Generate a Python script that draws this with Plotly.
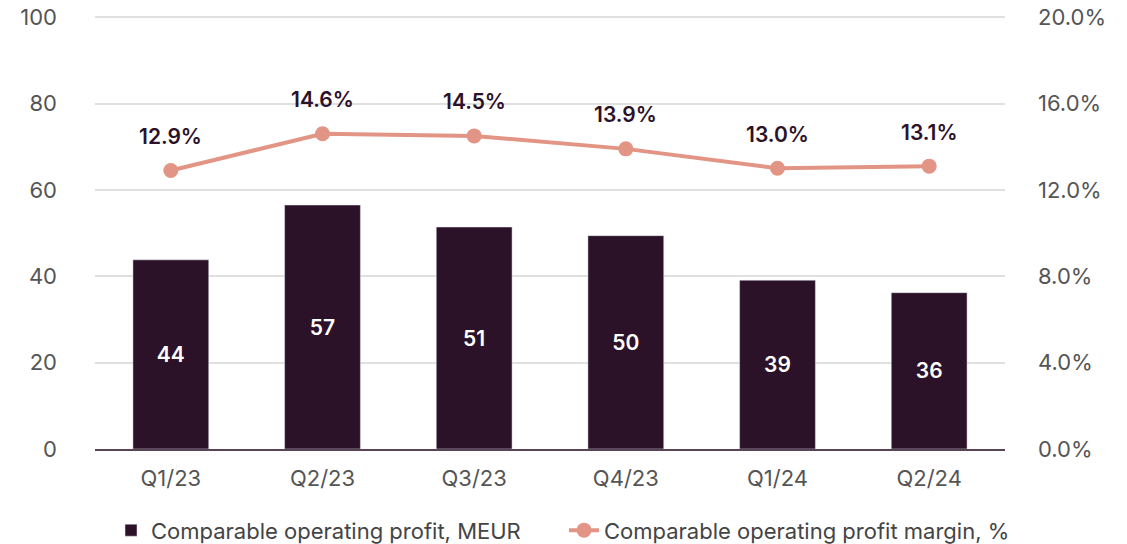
import plotly.graph_objects as go

quarters = ["Q1/23", "Q2/23", "Q3/23", "Q4/23", "Q1/24", "Q2/24"]
profit = [43.8, 56.5, 51.4, 49.4, 39.1, 36.2]
profit_labels = ["44", "57", "51", "50", "39", "36"]
margin = [12.9, 14.6, 14.5, 13.9, 13.0, 13.1]
margin_labels = ["12.9%", "14.6%", "14.5%", "13.9%", "13.0%", "13.1%"]

left_ticks = [0, 20, 40, 60, 80, 100]
right_ticks = [0, 4, 8, 12, 16, 20]
right_tick_labels = ["0.0%", "4.0%", "8.0%", "12.0%", "16.0%", "20.0%"]

BAR = "#2c1229"
LINE = "#e29584"
FONT = "Inter, Roboto, sans-serif"

fig = go.Figure()

fig.add_trace(go.Bar(
    x=quarters, y=profit,
    name="Comparable operating profit, MEUR",
    marker=dict(color=BAR),
    text=profit_labels, textposition="inside", insidetextanchor="middle",
    textfont=dict(color="white", size=21, family=FONT, weight=600),
))

fig.add_trace(go.Scatter(
    x=quarters, y=margin, yaxis="y2",
    mode="lines+markers",
    name="Comparable operating profit margin, %",
    line=dict(color=LINE, width=4),
    marker=dict(color=LINE, size=15),
))

# value labels above the line points
for q, m, lab in zip(quarters, margin, margin_labels):
    fig.add_annotation(x=q, y=m, yref="y2", text=lab, showarrow=False,
                       yshift=34, font=dict(color="#2c1229", size=21,
                                            family=FONT, weight=600))

# page body adds an 8px margin, so the figure is sized/offset to compensate
# ranges go a hair past 100 / 20% so the top gridline is still drawn
fig.update_layout(
    width=1119, height=536,
    margin=dict(l=87, r=122, t=7, b=95, autoexpand=False),
    plot_bgcolor="white", paper_bgcolor="white",
    font=dict(family=FONT, size=22, color="#555555"),
    bargap=0.5,
    showlegend=True,
    legend=dict(orientation="h", x=0.0176, y=-0.1875, xanchor="left", yanchor="middle",
                font=dict(size=22, color="#444444"), itemwidth=30,
                entrywidth=408, tracegroupgap=0),
    xaxis=dict(showgrid=False, showline=True, linecolor="#5a4558", linewidth=2,
               ticks="", ticklabelstandoff=9),
    yaxis=dict(range=[0, 100.5], tickvals=left_ticks, showgrid=True,
               gridcolor="#e0e0e0", gridwidth=2, zeroline=False,
               ticklabelstandoff=37, ticklabeloverflow="allow"),
    yaxis2=dict(range=[0, 20.1], tickvals=right_ticks, ticktext=right_tick_labels,
                overlaying="y", side="right", showgrid=False, zeroline=False,
                ticklabelstandoff=32, ticklabeloverflow="allow"),
)

fig.write_html("out.html")
